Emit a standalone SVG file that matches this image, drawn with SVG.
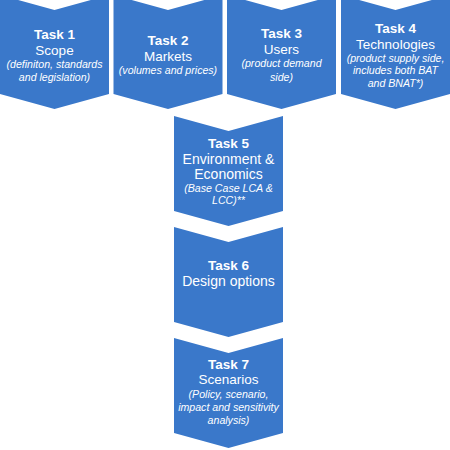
<svg xmlns="http://www.w3.org/2000/svg" width="450" height="450" viewBox="0 0 450 450">
<style>
.chev{fill:#3a78ca;}
text{fill:#ffffff;font-family:"Liberation Sans",Arial,sans-serif;text-anchor:middle;}
.t{font-weight:bold;font-size:13.5px;}
.s{font-size:13.5px;}
.s2{font-size:14px;}
.i{font-style:italic;font-size:10.6px;}
</style>
<rect width="450" height="450" fill="#ffffff"/>
<g id="connectors"></g>
<g id="task1">
<path class="chev" d="M0,-5 L54.5,10 L109,-5 L109,94 L54.5,109 L0,94 Z"/>
<text class="t" x="54.5" y="38.5">Task 1</text>
<text class="s" x="54.5" y="54.5">Scope</text>
<text class="i" x="54.5" y="67.5">(definiton, standards</text>
<text class="i" x="54.5" y="81">and legislation)</text>
</g>
<g id="task2">
<path class="chev" d="M113.5,-5 L168,10 L222.5,-5 L222.5,94 L168,109 L113.5,94 Z"/>
<text class="t" x="168" y="45">Task 2</text>
<text class="s" x="168" y="61">Markets</text>
<text class="i" x="168" y="74">(volumes and prices)</text>
</g>
<g id="task3">
<path class="chev" d="M227,-5 L281.5,10 L336,-5 L336,94 L281.5,109 L227,94 Z"/>
<text class="t" x="281.5" y="37.5">Task 3</text>
<text class="s" x="281.5" y="53.5">Users</text>
<text class="i" x="281.5" y="67">(product demand</text>
<text class="i" x="281.5" y="81">side)</text>
</g>
<g id="task4">
<path class="chev" d="M341,-5 L395.5,10 L450,-5 L450,94 L395.5,109 L341,94 Z"/>
<text class="t" x="395.5" y="32.5">Task 4</text>
<text class="s" x="395.5" y="48.5">Technologies</text>
<text class="i" x="395.5" y="61.5">(product supply side,</text>
<text class="i" x="395.5" y="74">includes both BAT</text>
<text class="i" x="395.5" y="86.5">and BNAT*)</text>
</g>
<g id="task5">
<path class="chev" d="M174,116 L228.5,131 L283,116 L283,211 L228.5,226 L174,211 Z"/>
<text class="t" x="228.5" y="147.5">Task 5</text>
<text class="s2" x="228.5" y="163.5">Environment &amp;</text>
<text class="s2" x="228.5" y="178.5">Economics</text>
<text class="i" x="228.5" y="191.5">(Base Case LCA &amp;</text>
<text class="i" x="228.5" y="203.5">LCC)**</text>
</g>
<g id="task6">
<path class="chev" d="M174,227 L228.5,242 L283,227 L283,322 L228.5,337 L174,322 Z"/>
<text class="t" x="228.5" y="270">Task 6</text>
<text class="s2" x="228.5" y="285.5">Design options</text>
</g>
<g id="task7">
<path class="chev" d="M174,338 L228.5,353 L283,338 L283,433 L228.5,448 L174,433 Z"/>
<text class="t" x="228.5" y="368.5">Task 7</text>
<text class="s" x="228.5" y="384">Scenarios</text>
<text class="i" x="228.5" y="398">(Policy, scenario,</text>
<text class="i" x="228.5" y="410.5">impact and sensitivity</text>
<text class="i" x="228.5" y="423.5">analysis)</text>
</g>
</svg>
